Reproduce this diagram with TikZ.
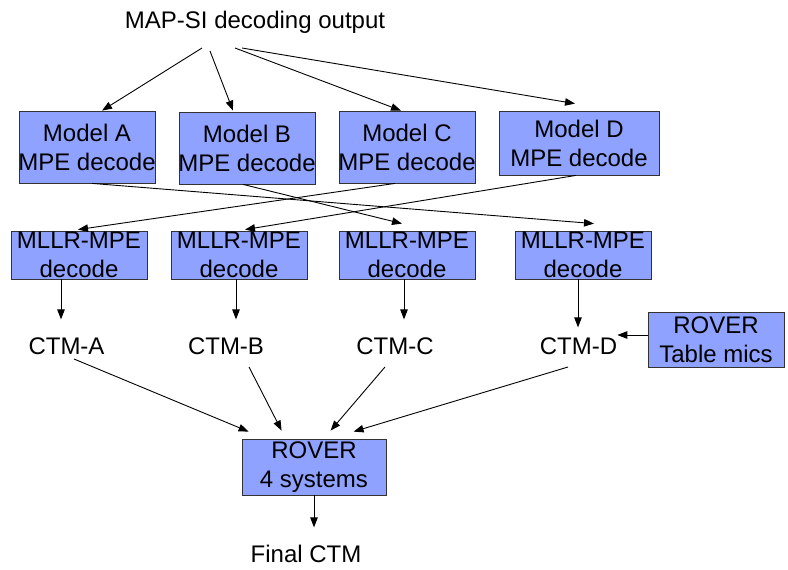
\documentclass[tikz,border=0pt]{standalone}
\usepackage{fontspec}
\setmainfont{Liberation Sans}
\usetikzlibrary{arrows.meta,calc}
\definecolor{boxblue}{RGB}{143,162,255}
\definecolor{edgegray}{RGB}{50,50,50}
\newcommand{\lbfont}{\fontsize{24}{29}\selectfont}
\tikzset{
  boxst/.style={draw=edgegray, fill=boxblue, line width=0.8pt, inner sep=0pt},
  lbl/.style={font=\lbfont, align=center, inner sep=0pt},
  arr/.style={-{Triangle[length=10pt,width=7.5pt]}, line width=0.9pt},
}
\begin{document}
\begin{tikzpicture}[x=1pt,y=-1pt]
\useasboundingbox (0,0) rectangle (788,570);
% boxes
\node[boxst, minimum width=136pt, minimum height=72pt] (mA) at (87,147) {};
\node[boxst, minimum width=136pt, minimum height=72pt] (mB) at (247,148) {};
\node[boxst, minimum width=136pt, minimum height=72pt] (mC) at (407,147) {};
\node[boxst, minimum width=160pt, minimum height=64pt] (mD) at (579,143) {};
\node[boxst, minimum width=136pt, minimum height=48pt] (lA) at (79,255) {};
\node[boxst, minimum width=136pt, minimum height=48pt] (lB) at (239,255) {};
\node[boxst, minimum width=136pt, minimum height=48pt] (lC) at (407,255) {};
\node[boxst, minimum width=136pt, minimum height=48pt] (lD) at (583,255) {};
\node[boxst, minimum width=144pt, minimum height=56pt] (r4) at (314,467) {};
\node[boxst, minimum width=136pt, minimum height=55pt] (rT) at (716,339.5) {};
% box texts
\node[lbl] (tmA) at (mA.center) {Model A\\MPE decode};
\node[lbl] (tmB) at (mB.center) {Model B\\MPE decode};
\node[lbl] (tmC) at (mC.center) {Model C\\MPE decode};
\node[lbl] (tmD) at (mD.center) {Model D\\MPE decode};
\node[lbl] (tlA) at (lA.center) {MLLR-MPE\\decode};
\node[lbl] (tlB) at (lB.center) {MLLR-MPE\\decode};
\node[lbl] (tlC) at (lC.center) {MLLR-MPE\\decode};
\node[lbl] (tlD) at (lD.center) {MLLR-MPE\\decode};
\node[lbl] (tr4) at (r4.center) {ROVER\\4 systems};
\node[lbl] (trT) at (rT.center) {ROVER\\Table mics};
% free labels
\node[lbl, anchor=base] (title) at (255,28.6) {MAP-SI decoding output};
\node[lbl, anchor=base] (cA) at (66.5,354) {CTM-A};
\node[lbl, anchor=base] (cB) at (226,354) {CTM-B};
\node[lbl, anchor=base] (cC) at (395,354) {CTM-C};
\node[lbl, anchor=base] (cD) at (578.5,354) {CTM-D};
\node[lbl, anchor=base] (fin) at (306,562) {Final CTM};
% connector end points
\coordinate (s1) at (202,48);
\coordinate (s2) at (210,51);
\coordinate (s3) at (235,48);
\coordinate (s4) at (242,48);
% title to models
\draw[arr] (s1) -- ($(mA.north)+(15,0)$);
\draw[arr] (s2) -- ($(mB.north)+(-14,-1)$);
\draw[arr] (s3) -- ($(mC.north)+(-6,0)$);
\draw[arr] (s4) -- ($(mD.north)+(-4,-7)$);
% crossing arrows
\draw[arr] ($(mA.south)+(5,0)$) -- ($(lD.north)+(11,-7)$);
\draw[arr] ($(mB.south)+(-4,0)$) -- ($(lC.north)+(-5,-7)$);
\draw[arr] ($(mC.south)+(-12,0)$) -- ($(lA.north)+(-1,-1)$);
\draw[arr] ($(mD.south)+(-3,0)$) -- ($(lB.north)+(6,-1)$);
% vertical arrows
\draw[arr] ($(lA.south)+(-18,0)$) -- ($(lA.south)+(-18,40)$);
\draw[arr] ($(lB.south)+(-3,0)$) -- ($(lB.south)+(-3,40)$);
\draw[arr] ($(lC.south)+(-3,0)$) -- ($(lC.south)+(-3,40)$);
\draw[arr] ($(lD.south)+(-5,0)$) -- ($(lD.south)+(-5,48)$);
% table mics to CTM-D
\draw[arr] (rT.west |- 0,335) -- (cD.east |- 0,335);
% CTMs to ROVER 4
\draw[arr] (74,359) -- ($(r4.north west)+(7,-7)$);
\draw[arr] (249,367) -- ($(r4.north west)+(40,-8)$);
\draw[arr] (385,367) -- ($(r4.north west)+(89,-8)$);
\draw[arr] (568,367) -- ($(r4.north west)+(112,-7)$);
% final
\draw[arr] (r4.south) -- ($(r4.south)+(0,32)$);
\end{tikzpicture}
\end{document}
